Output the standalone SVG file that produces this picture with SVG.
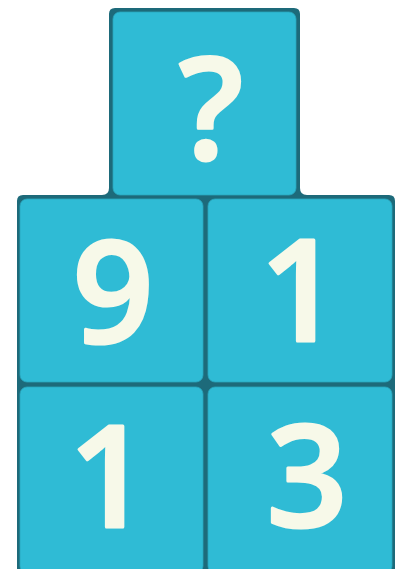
<svg xmlns="http://www.w3.org/2000/svg" width="404" height="569" viewBox="0 0 404 569">
<style>
.cell{fill:#2fbbd5;stroke:#2aa6bd;stroke-width:0.8}
.num{font-family:"Open Sans","Noto Sans","DejaVu Sans",sans-serif;font-weight:600;font-size:142px;fill:#f7f9e9;stroke:#f7f9e9;stroke-width:3;stroke-linejoin:round;text-anchor:middle}
</style>
<rect width="404" height="569" fill="#ffffff"/>
<g id="frame">
<path d="M115,8 H294 Q300,8 300,14 V188 Q300,195 307,195 H389 Q395,195 395,201 V569 H17 V201 Q17,195 23,195 H102 Q109,195 109,188 V14 Q109,8 115,8 Z" fill="#1d6a7a"/>
</g>
<g id="node-top">
<rect class="cell" x="113" y="12" width="183" height="183" rx="7"/>
<text class="num" x="211" y="159">?</text>
</g>
<g id="node-9">
<rect class="cell" x="20" y="199" width="183" height="183" rx="7"/>
<text class="num" x="113" y="343">9</text>
</g>
<g id="node-1a">
<rect class="cell" x="208" y="199" width="184" height="183" rx="7"/>
<text class="num" x="300" y="341">1</text>
</g>
<g id="node-1b">
<rect class="cell" x="20" y="387" width="183" height="186" rx="7"/>
<text class="num" x="109" y="527">1</text>
</g>
<g id="node-3">
<rect class="cell" x="208" y="387" width="184" height="186" rx="7"/>
<text class="num" x="307" y="527">3</text>
</g>
<g id="connectors"></g>
</svg>
